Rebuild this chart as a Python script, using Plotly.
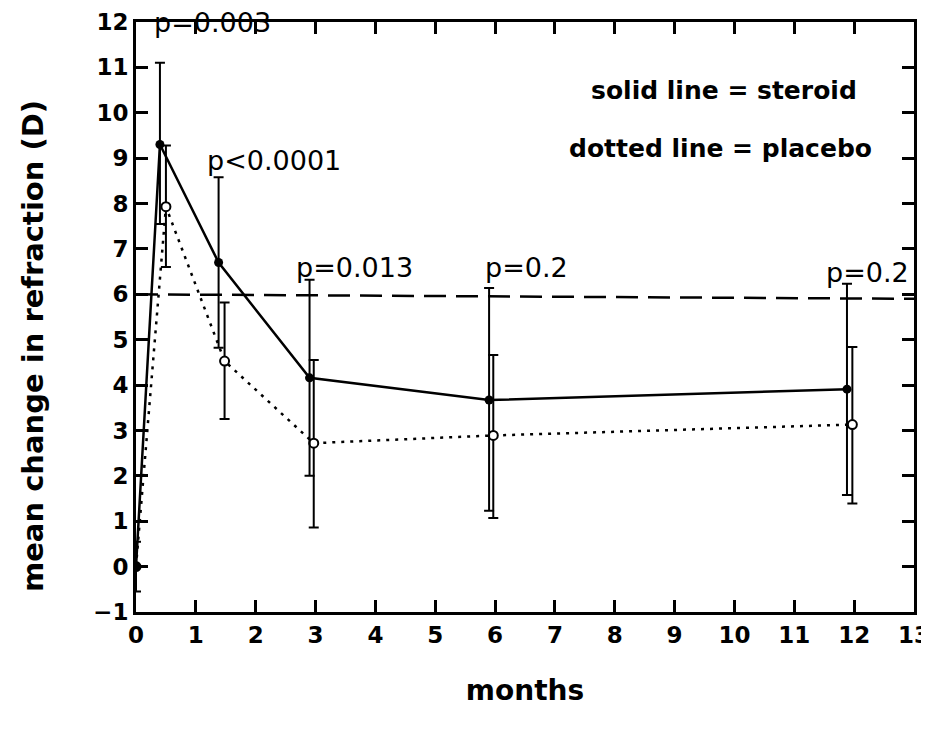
import plotly.graph_objects as go

# Data
steroid_x = [0, 0.4, 1.38, 2.9, 5.9, 11.88]
steroid_mean = [0, 9.3, 6.7, 4.16, 3.67, 3.91]
steroid_upper = [0.55, 11.1, 8.58, 6.32, 6.14, 6.23]
steroid_lower = [-0.55, 7.55, 4.82, 2.0, 1.23, 1.58]

placebo_x = [0, 0.5, 1.48, 2.97, 5.97, 11.97]
placebo_mean = [0, 7.93, 4.53, 2.72, 2.89, 3.13]
placebo_upper = [0, 9.28, 5.82, 4.55, 4.66, 4.84]
placebo_lower = [0, 6.6, 3.25, 0.86, 1.07, 1.39]

ref_line_x = [0, 13]
ref_line_y = [6.0, 5.9]

p_labels = ["p=0.003", "p<0.0001", "p=0.013", "p=0.2", "p=0.2"]
p_label_x = [1.27, 2.3, 3.65, 6.52, 12.23]
p_label_y = [12.0, 8.95, 6.58, 6.58, 6.47]

x_ticks = list(range(0, 14))
y_ticks = list(range(-1, 13))

def err(mean, up, lo):
    return [u - m for m, u in zip(mean, up)], [m - l for m, l in zip(mean, lo)]

s_plus, s_minus = err(steroid_mean, steroid_upper, steroid_lower)
p_plus, p_minus = err(placebo_mean, placebo_upper, placebo_lower)

fig = go.Figure()

fig.add_trace(go.Scatter(
    x=ref_line_x, y=ref_line_y, mode="lines",
    line=dict(color="black", width=2.5, dash="22px,10px"),
    showlegend=False, hoverinfo="skip"))

fig.add_trace(go.Scatter(
    x=placebo_x, y=placebo_mean, mode="lines+markers",
    line=dict(color="black", width=2.5, dash="3px,6px"),
    marker=dict(symbol="circle", size=9, color="white",
                line=dict(color="black", width=2)),
    error_y=dict(type="data", symmetric=False, array=p_plus, arrayminus=p_minus,
                 color="black", thickness=2, width=5),
    name="placebo", showlegend=False))

fig.add_trace(go.Scatter(
    x=steroid_x, y=steroid_mean, mode="lines+markers",
    line=dict(color="black", width=2.5),
    marker=dict(symbol="circle", size=9, color="black"),
    error_y=dict(type="data", symmetric=False, array=s_plus, arrayminus=s_minus,
                 color="black", thickness=2, width=5),
    name="steroid", showlegend=False))

ann_font = dict(family="DejaVu Sans", size=27, color="black")
for t, x, y in zip(p_labels, p_label_x, p_label_y):
    fig.add_annotation(x=x, y=y, text=t, showarrow=False, font=ann_font,
                       xanchor="center", yanchor="middle")

leg_font = dict(family="DejaVu Sans", size=25, color="black", weight="bold")
fig.add_annotation(x=9.83, y=10.5, text="solid line = steroid", showarrow=False,
                   font=leg_font, xanchor="center", yanchor="middle")
fig.add_annotation(x=9.77, y=9.22, text="dotted line = placebo", showarrow=False,
                   font=leg_font, xanchor="center", yanchor="middle")

# y-axis title placed as rotated text (it sits slightly below centre in the reference)
fig.add_annotation(xref="paper", x=0, xshift=-103, xanchor="center",
                   y=4.86, yanchor="middle", textangle=-90,
                   text="mean change in refraction (D)", showarrow=False,
                   font=dict(family="DejaVu Sans", size=29, color="black", weight="bold"))

axis_common = dict(
    showline=True, linecolor="black", linewidth=3, mirror="ticks",
    ticks="inside", ticklen=12, tickwidth=2.5, tickcolor="black",
    showgrid=False, zeroline=False,
    tickfont=dict(family="DejaVu Sans", size=23, color="black", weight="bold"),
)

fig.update_xaxes(range=[0, 13], tickvals=x_ticks,
                 title=dict(text="months", standoff=34,
                            font=dict(family="DejaVu Sans", size=28, color="black", weight="bold")),
                 **axis_common)
fig.update_yaxes(range=[-1, 12], tickvals=y_ticks, **axis_common)

fig.update_layout(
    width=929, height=730,
    margin=dict(l=128, r=23, t=14, b=126, autoexpand=False),
    plot_bgcolor="white", paper_bgcolor="white",
    showlegend=False,
)

fig.write_html("out.html")
